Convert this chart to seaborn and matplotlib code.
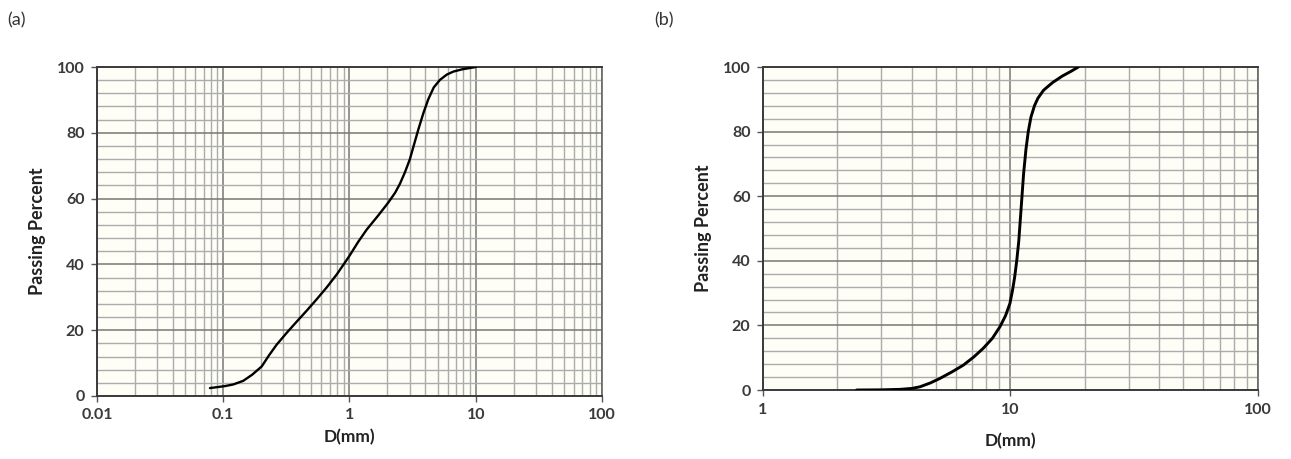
import numpy as np
import pandas as pd
import matplotlib
matplotlib.use("Agg")
import matplotlib.pyplot as plt
from matplotlib.ticker import FixedLocator, NullFormatter
import seaborn as sns

# ---------- data ----------
# (a) fine sample
d_a = [0.0785, 0.09, 0.103, 0.12, 0.144, 0.17, 0.202, 0.23, 0.265, 0.32, 0.382,
       0.46, 0.55, 0.66, 0.795, 1.0, 1.17, 1.37, 1.7, 2.03, 2.3, 2.51, 2.75,
       3.01, 3.25, 3.51, 3.85, 4.21, 4.65, 5.21, 5.9, 6.64, 7.8, 9.0, 10.0]
p_a = [2.4, 2.7, 3.0, 3.5, 4.6, 6.5, 9.0, 12.3, 15.6, 19.3, 22.6,
       26.0, 29.4, 33.0, 37.0, 42.6, 46.8, 50.6, 55.0, 58.8, 61.8, 64.5, 68.0,
       72.0, 76.5, 81.0, 86.0, 90.2, 93.8, 96.1, 97.7, 98.6, 99.3, 99.7, 100.0]

# (b) coarse sample
d_b = [2.39, 3.0, 3.58, 4.0, 4.31, 4.75, 5.19, 5.8, 6.45, 7.1, 7.76, 8.45,
       9.07, 9.55, 9.95, 10.2, 10.4, 10.6, 10.8, 11.06, 11.3, 11.55, 11.8,
       12.1, 12.5, 12.9, 13.6, 14.8, 16.2, 17.5, 18.8]
p_b = [0.0, 0.05, 0.2, 0.5, 1.0, 2.2, 3.6, 5.6, 7.7, 10.2, 12.9, 16.0,
       19.6, 23.0, 26.8, 31.0, 35.0, 40.0, 46.0, 57.0, 67.0, 74.5, 80.0,
       84.5, 88.0, 90.3, 92.8, 95.2, 97.2, 98.6, 100.0]

xticks_a = [0.01, 0.1, 1, 10, 100]
xlabels_a = ["0.01", "0.1", "1", "10", "100"]
xticks_b = [1, 10, 100]
xlabels_b = ["1", "10", "100"]
yticks = [0, 20, 40, 60, 80, 100]
panel_tags = ["(a)", "(b)"]

# ---------- style ----------
sns.set_style("white")
plt.rcParams["font.family"] = ["Lato", "DejaVu Sans"]

BG = "#fefef7"
MAJOR = "#777777"
MINOR = "#acacac"
TXT = "#3a3a3a"


def style_axes(ax, xlo, xhi, xticks, xlabels):
    ax.set_xscale("log")
    ax.set_xlim(xlo, xhi)
    ax.set_ylim(0, 100)
    ax.set_facecolor(BG)

    decades = np.arange(np.log10(xlo), np.log10(xhi))
    minors = [m * 10 ** d for d in decades for m in range(2, 10)]
    ax.xaxis.set_major_locator(FixedLocator(xticks))
    ax.xaxis.set_minor_locator(FixedLocator(minors))
    ax.xaxis.set_minor_formatter(NullFormatter())
    ax.set_xticklabels(xlabels)

    ax.yaxis.set_major_locator(FixedLocator(yticks))
    ax.yaxis.set_minor_locator(FixedLocator(np.arange(0, 101, 4)))
    ax.set_yticklabels([str(v) for v in yticks])

    ax.grid(which="minor", color=MINOR, linewidth=1.0)
    ax.grid(which="major", color=MAJOR, linewidth=1.1)
    ax.set_axisbelow(True)

    ax.tick_params(axis="both", which="major", direction="out", length=4,
                   width=1, color="#555555", labelsize=11.5, labelcolor=TXT,
                   pad=5, bottom=True, left=True)
    ax.tick_params(axis="both", which="minor", length=0)
    for lab in ax.get_xticklabels() + ax.get_yticklabels():
        lab.set_fontweight("bold")

    for side in ["left", "bottom", "top"]:
        ax.spines[side].set_color("#3a3a3a")
        ax.spines[side].set_linewidth(1.4)
    ax.spines["right"].set_color("#666666")
    ax.spines["right"].set_linewidth(1.2)

    ax.set_xlabel("D(mm)", fontsize=12.5, fontweight="bold", color="#222222", labelpad=4)
    ax.set_ylabel("Passing Percent", fontsize=13, fontweight="bold", color="#222222",
                  labelpad=8)


fig = plt.figure(figsize=(12.91, 4.59), dpi=100)
fig.patch.set_facecolor("white")
ax_a = fig.add_axes([0.0751, 0.1373, 0.3912, 0.7167])
ax_b = fig.add_axes([0.591, 0.1503, 0.3834, 0.7037])

df_a = pd.DataFrame({"D": d_a, "P": p_a})
df_b = pd.DataFrame({"D": d_b, "P": p_b})

sns.lineplot(data=df_a, x="D", y="P", ax=ax_a, color="black", linewidth=1.7,
             sort=False, estimator=None, zorder=5)
sns.lineplot(data=df_b, x="D", y="P", ax=ax_b, color="black", linewidth=2.1,
             sort=False, estimator=None, zorder=5)

style_axes(ax_a, 0.01, 100, xticks_a, xlabels_a)
style_axes(ax_b, 1, 100, xticks_b, xlabels_b)
ax_a.xaxis.labelpad = 5
ax_b.xaxis.labelpad = 12

fig.text(0.006, 0.955, panel_tags[0], fontsize=13, color="#333333", va="center")
fig.text(0.507, 0.955, panel_tags[1], fontsize=13, color="#333333", va="center")

fig.savefig("out.png", dpi=100, facecolor="white")
